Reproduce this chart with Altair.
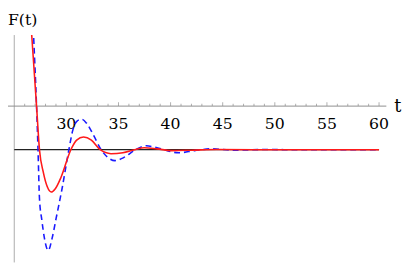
import altair as alt
import pandas as pd

# ---- data ----
t_red = [26.44, 26.67, 27.14, 27.42, 27.79, 28.17, 28.55, 28.92, 29.49, 30.43,
         30.99, 31.65, 32.4, 33.25, 34.28, 35.42, 36.54, 37.48, 38.7, 40.1,
         42.0, 44.4, 48.0, 60.0]
f_red = [2.46, 1.65, 0.0, -1.0, -1.52, -1.85, -1.97, -1.90, -1.63, -1.0,
         -0.78, -0.71, -0.78, -1.0, -1.09, -1.07, -1.0, -0.955, -0.98, -1.02,
         -1.01, -0.995, -1.0, -1.0]

t_blue = [26.71, 26.85, 27.14, 27.28, 27.42, 27.65, 27.89, 28.26, 28.64, 29.02,
          29.58, 30.24, 30.62, 31.0, 31.46, 31.93, 32.59, 33.34, 34.0, 34.66,
          35.5, 36.64, 37.67, 38.7, 40.77, 42.3, 43.87, 46.2, 49.0, 52.0, 60.0]
f_blue = [2.46, 1.65, 0.0, -1.0, -2.12, -2.62, -3.02, -3.31, -3.02, -2.57,
          -1.90, -1.0, -0.55, -0.35, -0.30, -0.39, -0.66, -1.0, -1.18, -1.25,
          -1.18, -1.0, -0.91, -0.955, -1.07, -1.02, -0.98, -1.01, -0.995, -1.0, -1.0]

t_limit = [25, 60]
f_limit = [-1, -1]

major_ticks = [30, 35, 40, 45, 50, 55, 60]
major_labels = ["30", "35", "40", "45", "50", "55", "60"]
minor_ticks = [26, 27, 28, 29, 31, 32, 33, 34, 36, 37, 38, 39, 41, 42, 43, 44,
               46, 47, 48, 49, 51, 52, 53, 54, 56, 57, 58, 59]

x_domain = [24.4, 60.7]
y_domain = [-3.584, 1.629]

# ---- tables ----
red_df = pd.DataFrame({"t": t_red, "F": f_red})
blue_df = pd.DataFrame({"t": t_blue, "F": f_blue})
lim_df = pd.DataFrame({"t": t_limit, "F": f_limit})
major_df = pd.DataFrame({"t": major_ticks, "F": [0] * len(major_ticks), "lab": major_labels})
minor_df = pd.DataFrame({"t": minor_ticks, "F": [0] * len(minor_ticks)})

X = alt.X("t:Q", scale=alt.Scale(domain=x_domain, nice=False, zero=False), axis=None)
Y = alt.Y("F:Q", scale=alt.Scale(domain=y_domain, nice=False, zero=False), axis=None)

serif = "DejaVu Serif"

y_axis = alt.Chart(pd.DataFrame({"t": [25]})).mark_rule(color="#aaaaaa", strokeWidth=1).encode(x=X)
x_axis = alt.Chart(pd.DataFrame({"F": [0]})).mark_rule(color="#8c8c8c", strokeWidth=1).encode(y=Y)

minor = alt.Chart(minor_df).mark_tick(orient="vertical", size=2.5, thickness=1, yOffset=-1.25,
                                      color="#8c8c8c").encode(x=X, y=Y)
major = alt.Chart(major_df).mark_tick(orient="vertical", size=4, thickness=1, yOffset=-2,
                                      color="#8c8c8c").encode(x=X, y=Y)
labels = alt.Chart(major_df).mark_text(font=serif, fontSize=16, baseline="middle", dy=18,
                                       color="black").encode(x=X, y=Y, text="lab:N")

limit = alt.Chart(lim_df).mark_line(color="#222222", strokeWidth=1.3).encode(x=X, y=Y)
red = alt.Chart(red_df).mark_line(color="#ff1a1a", strokeWidth=1.6, clip=True,
                                  interpolate="monotone").encode(x=X, y=Y)
blue = alt.Chart(blue_df).mark_line(color="#1a1aff", strokeWidth=1.6, clip=True,
                                    strokeDash=[6, 4], interpolate="monotone").encode(x=X, y=Y)

ylab = alt.Chart(pd.DataFrame({"s": ["F(t)"]})).mark_text(
    font=serif, fontSize=16, align="left", baseline="alphabetic").encode(
    x=alt.value(0), y=alt.value(-10), text="s:N")
xlab = alt.Chart(pd.DataFrame({"s": ["t"]})).mark_text(
    font=serif, fontSize=18, align="left", baseline="alphabetic").encode(
    x=alt.value(394), y=alt.value(78), text="s:N")

chart = alt.layer(y_axis, x_axis, minor, major, labels, limit, blue, red, ylab, xlab).properties(
    width=386, height=232,
    autosize=alt.AutoSizeParams(type="none"),
    padding={"left": 0, "top": 25, "right": 17, "bottom": 0},
).configure_view(stroke=None)

chart.save("out.html", embed_options={"renderer": "svg", "actions": False})
